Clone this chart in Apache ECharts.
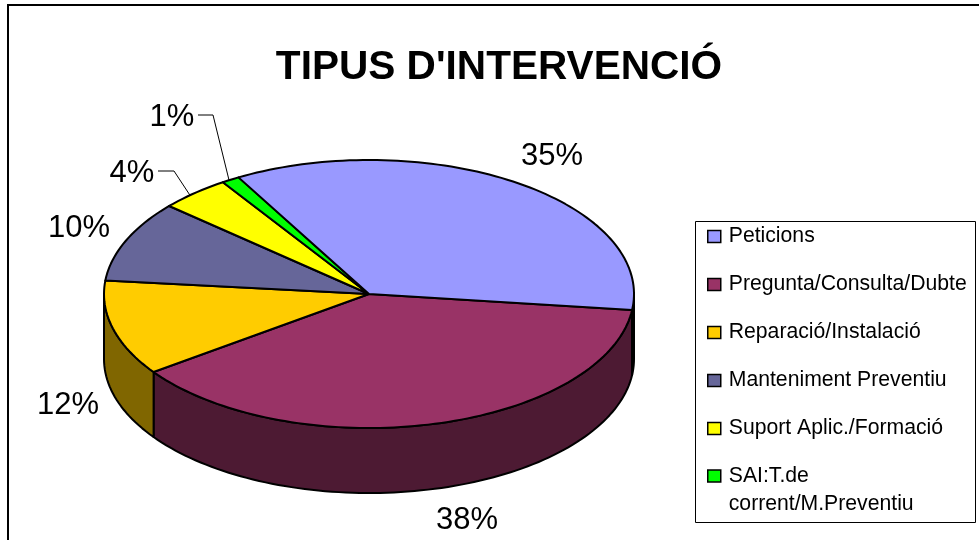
<!DOCTYPE html>
<html>
<head>
<meta charset="utf-8">
<style>
  html, body { margin: 0; padding: 0; background: #fff; }
  #chart { width: 979px; height: 540px; }
</style>
<script src="https://cdn.jsdelivr.net/npm/echarts@6/dist/echarts.min.js"></script>
</head>
<body>
<div id="chart"></div>
<script>
const categories = ['Peticions', 'Pregunta/Consulta/Dubte', 'Reparació/Instalació', 'Manteniment Preventiu', 'Suport Aplic./Formació', 'SAI:T.de corrent/M.Preventiu']
// read from the slice boundaries, labels show them rounded
const values = [35.1, 38.2, 11.5, 9.8, 4.3, 1.1]
const colors = ['#9999FF', '#993366', '#FFCC00', '#666699', '#FFFF00', '#00FF00']
const sideColors = ['#4D4D80', '#4D1A33', '#806600', '#333350', '#808000', '#008000']

// tilted pie geometry
const cx = 369
const cy = 294
const rx = 265
const ry = 134
const depth = 65
const startAngle = -29.5

// label centres and leader elbows are picked by eye
const labelPos = [[552, 156], [467, 520], [68, 405], [79, 228], [132, 173], [172, 117]]
const leaderElbow = [null, null, null, null, [[158, 171], [174, 171]], [[198, 115], [213, 115]]]
const leaderNudge = [0, 0, 0, 0, -1.3, -0.4]

const total = values.reduce((a, b) => a + b, 0)
const rad = d => d * Math.PI / 180
const pt = (t, dy) => [cx + rx * Math.sin(rad(t)), cy - ry * Math.cos(rad(t)) + (dy || 0)]

function arc (from, to, dy) {
  const pts = []
  const n = Math.max(2, Math.ceil((to - from) / 1.5))
  for (let i = 0; i <= n; i++) {
    pts.push(pt(from + (to - from) * i / n, dy))
  }
  return pts
}

function renderSlice (idx) {
  return function (params, api) {
    const before = values.slice(0, idx).reduce((a, b) => a + b, 0)
    const from = startAngle + before / total * 360
    const to = from + api.value(0) / total * 360
    const stroke = { stroke: '#000', lineWidth: 2, lineJoin: 'round' }
    const children = []

    // front wall, only the part between 90 and 270 degrees is visible
    const a = Math.max(from, 90)
    const b = Math.min(to, 270)
    if (b > a) {
      const wall = arc(a, b, 0).concat(arc(a, b, depth).reverse())
      children.push({
        type: 'polygon',
        shape: { points: wall },
        style: Object.assign({ fill: sideColors[idx] }, stroke)
      })
    }

    children.push({
      type: 'polygon',
      shape: { points: [[cx, cy]].concat(arc(from, to, 0)) },
      style: Object.assign({ fill: colors[idx] }, stroke)
    })

    const elbow = leaderElbow[idx]
    if (elbow) {
      children.push({
        type: 'polyline',
        shape: { points: elbow.concat([pt((from + to) / 2 + leaderNudge[idx], 0)]) },
        style: { stroke: '#000', lineWidth: 1, fill: null }
      })
    }

    children.push({
      type: 'text',
      style: {
        x: labelPos[idx][0],
        y: labelPos[idx][1],
        text: Math.round(api.value(0)) + '%',
        fill: '#000',
        font: '31px "Liberation Sans", Arial, sans-serif',
        align: 'center',
        verticalAlign: 'middle'
      }
    })
    return { type: 'group', children: children }
  }
}

const series = categories.map((name, i) => ({
  type: 'custom',
  name: name,
  coordinateSystem: 'none',
  z: i === 0 ? 3 : 2,
  itemStyle: { color: colors[i] },
  data: [[values[i]]],
  renderItem: renderSlice(i),
  silent: true
}))

const legendBase = {
  orient: 'vertical',
  left: 707,
  padding: 0,
  itemWidth: 13,
  itemHeight: 12,
  itemGap: 27,
  icon: 'rect',
  inactiveColor: '#000',
  selectedMode: false,
  itemStyle: { borderColor: '#000', borderWidth: 1.5 },
  textStyle: {
    color: '#000',
    fontFamily: '"Liberation Sans", Arial, sans-serif',
    fontSize: 21.2,
    padding: [0, 0, 0, 3]
  }
}

const chart = echarts.init(document.getElementById('chart'), null, { renderer: 'canvas' })
chart.setOption({
  animation: false,
  backgroundColor: '#fff',
  title: {
    text: "TIPUS D'INTERVENCIÓ",
    left: 499,
    top: 47,
    textAlign: 'center',
    padding: 0,
    textStyle: {
      color: '#000',
      fontFamily: '"Liberation Sans", Arial, sans-serif',
      fontWeight: 'bold',
      fontSize: 40.6
    }
  },
  legend: [
    Object.assign({}, legendBase, { top: 226, data: categories.slice(0, 5) }),
    Object.assign({}, legendBase, {
      top: 434,
      data: categories.slice(5),
      // blank first line keeps the marker level with the first text line
      formatter: () => '\u00a0\nSAI:T.de\ncorrent/M.Preventiu',
      textStyle: Object.assign({}, legendBase.textStyle, { lineHeight: 28 })
    })
  ],
  graphic: [
    { type: 'rect', z: -1, shape: { x: 8, y: 5, width: 1100, height: 700 }, style: { fill: '#fff', stroke: '#000', lineWidth: 2 } },
    { type: 'rect', z: -1, shape: { x: 695.5, y: 221.5, width: 280, height: 301 }, style: { fill: '#fff', stroke: '#000', lineWidth: 1 } }
  ],
  series: series
})
</script>
</body>
</html>
